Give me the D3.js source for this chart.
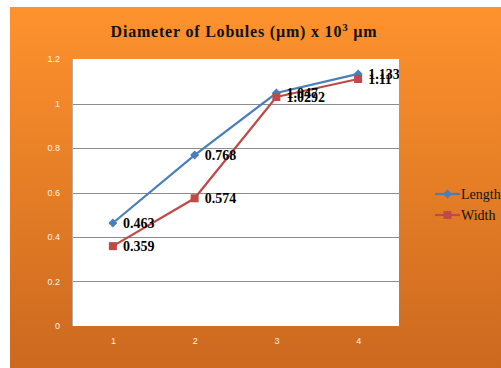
<!DOCTYPE html>
<html>
<head>
<meta charset="utf-8">
<script src="https://cdn.jsdelivr.net/npm/d3@7"></script>
<style>
  html, body { margin: 0; padding: 0; background: #fff; }
  svg { display: block; }
</style>
</head>
<body>
<svg id="chart" width="501" height="368"></svg>
<script>
// Lobule diameters (x 10^3 µm) per sample
const categories = ["1", "2", "3", "4"];
const lengthValues = [0.463, 0.768, 1.047, 1.133];
const widthValues = [0.359, 0.574, 1.0292, 1.11];
const lengthLabels = ["0.463", "0.768", "1.047", "1.133"];
const widthLabels = ["0.359", "0.574", "1.0292", "1.11"];
const yTicks = [0, 0.2, 0.4, 0.6, 0.8, 1, 1.2];
const yTickLabels = ["0", "0.2", "0.4", "0.6", "0.8", "1", "1.2"];
const seriesNames = ["Length", "Width"];

const svg = d3.select("#chart");
const W = 501, H = 368;

// Orange chart background
const defs = svg.append("defs");
const grad = defs.append("linearGradient")
  .attr("id", "bg").attr("x1", 0).attr("y1", 0).attr("x2", 0).attr("y2", 1);
grad.append("stop").attr("offset", "0%").attr("stop-color", "#fe922d");
grad.append("stop").attr("offset", "100%").attr("stop-color", "#cc691f");

svg.append("rect").attr("x", 10).attr("y", 7)
  .attr("width", W - 10).attr("height", H - 7)
  .attr("fill", "url(#bg)");

const plot = { left: 72, right: 399, top: 59, bottom: 326 };

const x = d3.scalePoint().domain(categories)
  .range([plot.left, plot.right]).padding(0.5);
const y = d3.scaleLinear().domain([0, 1.2])
  .range([plot.bottom, plot.top]);

// Plot area
svg.append("rect")
  .attr("x", plot.left).attr("y", plot.top)
  .attr("width", plot.right - plot.left).attr("height", plot.bottom - plot.top)
  .attr("fill", "#ffffff");

defs.append("clipPath").attr("id", "plotClip")
  .append("rect")
  .attr("x", plot.left).attr("y", plot.top)
  .attr("width", plot.right - plot.left).attr("height", plot.bottom - plot.top);

// Horizontal gridlines
svg.append("g").selectAll("line")
  .data(yTicks.filter(d => d > 0 && d < 1.2))
  .join("line")
  .attr("x1", plot.left).attr("x2", plot.right)
  .attr("y1", d => Math.round(y(d)) + 0.5).attr("y2", d => Math.round(y(d)) + 0.5)
  .attr("stroke", "#8c8c8c").attr("stroke-width", 1);

// Vertical axis line
svg.append("line")
  .attr("x1", plot.left + 0.5).attr("x2", plot.left + 0.5)
  .attr("y1", plot.top).attr("y2", plot.bottom)
  .attr("stroke", "#b0b0b0").attr("stroke-width", 1);

// Y axis
const yAxis = d3.axisLeft(y).tickValues(yTicks)
  .tickFormat((d, i) => yTickLabels[i]).tickSize(0).tickPadding(12);
const yG = svg.append("g").attr("transform", `translate(${plot.left},0)`).call(yAxis);
yG.select(".domain").remove();
yG.selectAll("text")
  .attr("fill", "#fff4ea")
  .style("font-family", "'Liberation Sans', Arial, sans-serif")
  .style("font-size", "9px");

// X axis
const xAxis = d3.axisBottom(x).tickSize(0).tickPadding(12);
const xG = svg.append("g").attr("transform", `translate(0,${plot.bottom})`).call(xAxis);
xG.select(".domain").remove();
xG.selectAll("text")
  .attr("fill", "#fff4ea")
  .style("font-family", "'Liberation Sans', Arial, sans-serif")
  .style("font-size", "9px");

const series = [
  { name: seriesNames[0], values: lengthValues, labels: lengthLabels, color: "#4a7ebb", shape: "diamond" },
  { name: seriesNames[1], values: widthValues, labels: widthLabels, color: "#be4b48", shape: "square" }
];

const line = d3.line().x((d, i) => x(categories[i])).y(d => y(d));

function drawMarker(g, shape, color, cx, cy) {
  if (shape === "diamond") {
    g.append("path")
      .attr("d", `M${cx},${cy - 4.5}L${cx + 4.5},${cy}L${cx},${cy + 4.5}L${cx - 4.5},${cy}Z`)
      .attr("fill", color);
  } else {
    g.append("rect")
      .attr("x", cx - 4).attr("y", cy - 4).attr("width", 8).attr("height", 8)
      .attr("fill", color);
  }
}

series.forEach(s => {
  const g = svg.append("g");
  g.append("path").datum(s.values)
    .attr("d", line).attr("fill", "none")
    .attr("stroke", s.color).attr("stroke-width", 2.2);
  s.values.forEach((v, i) => drawMarker(g, s.shape, s.color, x(categories[i]), y(v)));
});

// Data labels
const labelG = svg.append("g").attr("clip-path", "url(#plotClip)");
series.forEach(s => {
  labelG.selectAll(null).data(s.values).join("text")
    .attr("x", (d, i) => x(categories[i]) + 10)
    .attr("y", d => y(d) + 5)
    .text((d, i) => s.labels[i])
    .attr("fill", "#000")
    .style("font-family", "'Liberation Serif', 'Times New Roman', serif")
    .style("font-weight", "bold")
    .style("font-size", "14px");
});

// Title
svg.append("text")
  .attr("x", 244).attr("y", 37)
  .attr("text-anchor", "middle")
  .style("font-family", "'Liberation Serif', 'Times New Roman', serif")
  .style("font-weight", "bold")
  .style("font-size", "16px")
  .style("letter-spacing", "0.8px")
  .attr("fill", "#111")
  .html("Diameter of Lobules (µm) x 10<tspan dy='-6' font-size='11px'>3</tspan><tspan dy='6'> µm</tspan>");

// Legend
const legend = svg.append("g");
series.forEach((s, i) => {
  const ly = 194 + i * 21;
  legend.append("line")
    .attr("x1", 435).attr("x2", 460).attr("y1", ly).attr("y2", ly)
    .attr("stroke", s.color).attr("stroke-width", 2.2);
  drawMarker(legend, s.shape, s.color, 447.5, ly);
  legend.append("text")
    .attr("x", 461).attr("y", ly + 4.5)
    .text(s.name)
    .attr("fill", "#111")
    .style("font-family", "'Liberation Serif', 'Times New Roman', serif")
    .style("font-size", "14px");
});
</script>
</body>
</html>
